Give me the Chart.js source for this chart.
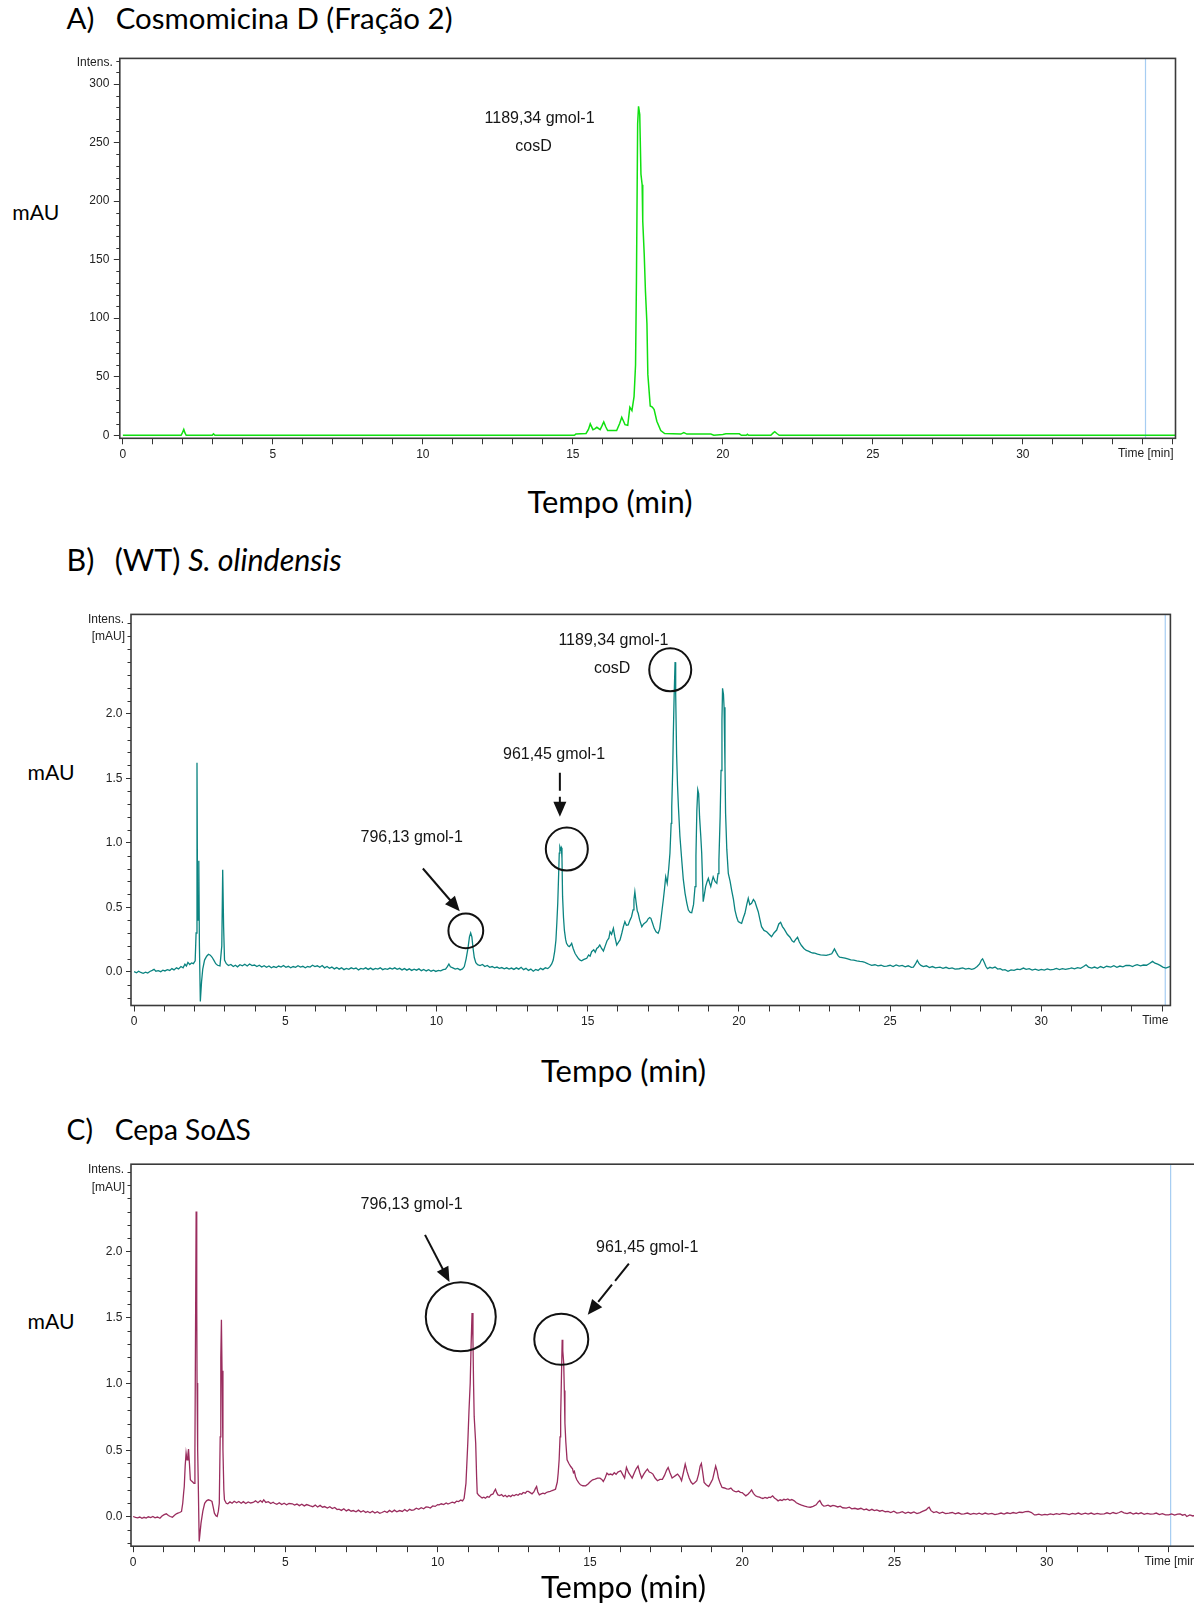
<!DOCTYPE html>
<html><head><meta charset="utf-8">
<script src="https://cdn.jsdelivr.net/npm/chart.js@4.4.1/dist/chart.umd.min.js"></script>
<style>
html,body{margin:0;padding:0;background:#fff;overflow:hidden;}
#page{position:relative;width:1194px;height:1605px;overflow:hidden;background:#fff;}
canvas{position:absolute;}
.t{position:absolute;white-space:nowrap;font-family:Lato,'Open Sans','Noto Sans',sans-serif;color:#000;line-height:1;transform:translateY(-50%);font-size:30px;}
.c{transform:translate(-50%,-50%);}
</style></head><body><div id="page">
<div class="t" id="lA" style="left:66.6px;top:18.4px">A)</div>
<div class="t" id="tA" data-w="337" style="left:115.7px;top:18.4px">Cosmomicina D (Fração 2)</div>
<div class="t" id="mA" data-w="47" style="left:12.3px;top:213px">mAU</div>
<div class="t c" id="xA" data-w="165" style="left:610px;top:500.7px">Tempo (min)</div>
<canvas id="cA" width="1194" height="440" style="left:0;top:40px;width:1194px;height:440px"></canvas>

<div class="t" id="lB" style="left:66.6px;top:559px">B)</div>
<div class="t" id="tB" data-w="227" style="left:114.7px;top:559px">(WT) <i>S. olindensis</i></div>
<div class="t" id="mB" data-w="47" style="left:27.6px;top:773px">mAU</div>
<div class="t c" id="xB" data-w="165" style="left:623.6px;top:1070px">Tempo (min)</div>
<canvas id="cB" width="1194" height="460" style="left:0;top:580px;width:1194px;height:460px"></canvas>

<div class="t" id="lC" style="left:66.6px;top:1129.4px">C)</div>
<div class="t" id="tC" data-w="136" style="left:114.7px;top:1129.4px">Cepa SoΔS</div>
<div class="t" id="mC" data-w="47" style="left:27.6px;top:1322px">mAU</div>
<canvas id="cC" width="1210" height="440" style="left:0;top:1140px;width:1210px;height:440px"></canvas>
<div class="t c" id="xC" data-w="165" style="left:623.6px;top:1586px">Tempo (min)</div>
</div>
<script>
// ---------------- DATA ----------------
const xTickLabels = [0, 5, 10, 15, 20, 25, 30];
const yTickLabelsA = [0, 50, 100, 150, 200, 250, 300];
const yTickLabelsB = [0, 0.5, 1.0, 1.5, 2.0];
const yTickLabelsC = [0, 0.5, 1.0, 1.5, 2.0];

// A) Cosmomicina D (Fração 2) : [time (min), intensity (mAU)]
const traceA = [[0,0],[1.94,0],[1.99,2.5],[2.03,5],[2.07,2],[2.11,0],[2.98,0],[3.02,1.2],[3.07,0],[15.05,0],[15.1,1],[15.44,1.5],[15.52,5],[15.58,9.7],[15.67,4.8],[15.73,5.5],[15.8,6.8],[15.91,4.8],[15.97,8],[16.03,11.4],[16.1,7],[16.16,4],[16.46,4],[16.56,10],[16.63,15.4],[16.69,12],[16.74,9],[16.83,8.5],[16.9,24],[16.97,21],[17.04,33],[17.09,60],[17.12,132],[17.16,266],[17.19,281],[17.23,274],[17.27,223],[17.31,214],[17.33,183],[17.38,154],[17.42,123],[17.47,95],[17.5,52],[17.58,25],[17.65,24],[17.71,22],[17.8,12],[17.93,4],[18.06,1.4],[18.6,1],[18.7,2.2],[18.8,1],[19.6,1],[19.7,0],[20.0,0.6],[20.1,1.2],[20.55,1.2],[20.62,0],[20.78,0],[20.82,0.8],[20.86,0],[21.6,0],[21.68,2],[21.73,3],[21.8,1.5],[21.88,0],[35.1,0]];

// B) (WT) S. olindensis
const traceB = [[0.00,0.000],[0.08,-0.008],[0.15,0.004],[0.22,-0.006],[0.30,-0.012],[0.38,-0.004],[0.45,-0.010],[0.52,0.002],[0.60,0.010],[0.66,0.018],[0.72,0.004],[0.80,0.008],[0.88,0.000],[0.95,0.012],[1.02,0.006],[1.10,0.016],[1.18,0.010],[1.25,0.024],[1.32,0.014],[1.40,0.030],[1.47,0.022],[1.55,0.040],[1.62,0.030],[1.68,0.058],[1.73,0.044],[1.78,0.072],[1.84,0.056],[1.90,0.068],[1.96,0.062],[2.02,0.085],[2.05,0.30],[2.08,1.62],[2.10,0.40],[2.12,0.40],[2.14,0.86],[2.16,0.20],[2.19,-0.23],[2.23,-0.08],[2.27,0.02],[2.33,0.09],[2.40,0.12],[2.46,0.135],[2.52,0.128],[2.58,0.112],[2.64,0.088],[2.70,0.062],[2.76,0.050],[2.84,0.045],[2.90,0.20],[2.93,0.79],[2.96,0.35],[2.99,0.09],[3.05,0.062],[3.12,0.048],[3.20,0.056],[3.28,0.040],[3.35,0.050],[3.42,0.038],[3.50,0.054],[3.58,0.046],[3.66,0.058],[3.74,0.044],[3.82,0.060],[3.90,0.048],[3.98,0.052],[4.06,0.040],[4.14,0.050],[4.22,0.036],[4.30,0.046],[4.38,0.034],[4.46,0.044],[4.54,0.030],[4.62,0.040],[4.70,0.032],[4.78,0.044],[4.86,0.036],[4.94,0.048],[5.02,0.034],[5.10,0.042],[5.18,0.030],[5.26,0.040],[5.34,0.034],[5.42,0.046],[5.50,0.036],[5.58,0.042],[5.66,0.030],[5.74,0.040],[5.82,0.036],[5.90,0.050],[5.98,0.040],[6.06,0.046],[6.14,0.034],[6.22,0.048],[6.30,0.030],[6.38,0.040],[6.46,0.026],[6.54,0.036],[6.62,0.022],[6.70,0.032],[6.78,0.020],[6.86,0.030],[6.94,0.016],[7.02,0.026],[7.10,0.018],[7.18,0.030],[7.26,0.022],[7.34,0.028],[7.42,0.014],[7.50,0.026],[7.58,0.020],[7.66,0.030],[7.74,0.018],[7.82,0.028],[7.90,0.016],[7.98,0.026],[8.06,0.020],[8.14,0.030],[8.22,0.016],[8.30,0.024],[8.38,0.018],[8.46,0.028],[8.54,0.020],[8.62,0.030],[8.70,0.018],[8.78,0.026],[8.86,0.014],[8.94,0.024],[9.02,0.012],[9.10,0.022],[9.18,0.010],[9.26,0.020],[9.34,0.012],[9.42,0.022],[9.50,0.008],[9.58,0.018],[9.66,0.006],[9.74,0.016],[9.82,0.004],[9.90,0.012],[9.98,0.002],[10.06,0.010],[10.14,0.006],[10.22,0.016],[10.30,0.020],[10.36,0.040],[10.41,0.060],[10.46,0.038],[10.54,0.030],[10.62,0.020],[10.70,0.026],[10.78,0.014],[10.86,0.022],[10.92,0.040],[10.98,0.100],[11.04,0.180],[11.09,0.270],[11.13,0.300],[11.17,0.270],[11.21,0.180],[11.25,0.110],[11.30,0.070],[11.36,0.054],[11.44,0.048],[11.52,0.056],[11.60,0.040],[11.68,0.048],[11.76,0.034],[11.84,0.040],[11.92,0.030],[12.00,0.036],[12.08,0.026],[12.16,0.032],[12.24,0.022],[12.32,0.030],[12.40,0.020],[12.48,0.028],[12.56,0.018],[12.64,0.030],[12.72,0.020],[12.80,0.034],[12.88,0.016],[12.96,0.026],[13.04,0.010],[13.12,0.020],[13.20,0.004],[13.28,0.018],[13.36,0.010],[13.44,0.026],[13.52,0.016],[13.60,0.030],[13.68,0.024],[13.75,0.039],[13.81,0.060],[13.86,0.090],[13.91,0.160],[13.95,0.246],[13.98,0.380],[14.01,0.530],[14.04,0.760],[14.06,0.920],[14.08,0.970],[14.11,0.950],[14.13,0.960],[14.15,0.880],[14.17,0.580],[14.20,0.420],[14.23,0.320],[14.27,0.250],[14.30,0.220],[14.35,0.200],[14.39,0.194],[14.43,0.205],[14.47,0.220],[14.52,0.180],[14.58,0.143],[14.64,0.120],[14.70,0.100],[14.75,0.090],[14.80,0.085],[14.86,0.094],[14.92,0.100],[14.97,0.104],[15.03,0.130],[15.08,0.120],[15.13,0.155],[15.20,0.170],[15.25,0.150],[15.30,0.180],[15.35,0.190],[15.40,0.207],[15.46,0.180],[15.52,0.160],[15.58,0.200],[15.64,0.240],[15.70,0.260],[15.74,0.310],[15.79,0.290],[15.85,0.336],[15.90,0.270],[15.96,0.207],[16.02,0.230],[16.07,0.246],[16.13,0.300],[16.18,0.350],[16.23,0.388],[16.28,0.360],[16.34,0.362],[16.40,0.400],[16.45,0.426],[16.50,0.480],[16.53,0.560],[16.56,0.620],[16.60,0.540],[16.64,0.470],[16.67,0.453],[16.72,0.400],[16.79,0.349],[16.85,0.370],[16.90,0.380],[16.95,0.388],[17.00,0.410],[17.05,0.420],[17.09,0.414],[17.14,0.380],[17.20,0.336],[17.26,0.310],[17.33,0.298],[17.38,0.330],[17.43,0.420],[17.47,0.500],[17.50,0.556],[17.54,0.640],[17.58,0.736],[17.63,0.685],[17.68,0.800],[17.72,0.918],[17.76,1.150],[17.78,1.280],[17.81,1.550],[17.83,1.820],[17.86,2.150],[17.89,2.400],[17.91,2.150],[17.94,1.690],[17.97,1.450],[18.00,1.280],[18.05,1.050],[18.11,0.866],[18.16,0.720],[18.22,0.608],[18.28,0.530],[18.33,0.478],[18.39,0.460],[18.44,0.457],[18.50,0.520],[18.55,0.660],[18.58,0.900],[18.61,1.250],[18.64,1.410],[18.67,1.380],[18.70,1.200],[18.74,1.050],[18.77,0.920],[18.80,0.700],[18.82,0.543],[18.86,0.600],[18.90,0.660],[18.95,0.700],[18.99,0.724],[19.03,0.690],[19.07,0.660],[19.11,0.700],[19.15,0.736],[19.21,0.700],[19.27,0.685],[19.31,0.760],[19.34,0.866],[19.38,1.200],[19.41,1.560],[19.44,1.950],[19.46,2.197],[19.49,2.150],[19.51,2.050],[19.54,1.600],[19.56,1.228],[19.60,0.950],[19.65,0.763],[19.71,0.700],[19.76,0.633],[19.82,0.560],[19.87,0.478],[19.93,0.420],[19.98,0.388],[20.04,0.380],[20.09,0.375],[20.15,0.420],[20.20,0.453],[20.26,0.520],[20.31,0.569],[20.36,0.520],[20.42,0.530],[20.48,0.560],[20.53,0.543],[20.59,0.500],[20.64,0.465],[20.70,0.400],[20.75,0.349],[20.83,0.320],[20.92,0.310],[21.00,0.290],[21.08,0.271],[21.16,0.300],[21.25,0.323],[21.32,0.370],[21.38,0.383],[21.44,0.350],[21.50,0.330],[21.60,0.290],[21.69,0.267],[21.76,0.240],[21.82,0.229],[21.88,0.250],[21.94,0.267],[22.00,0.230],[22.07,0.203],[22.15,0.180],[22.23,0.165],[22.30,0.160],[22.38,0.150],[22.45,0.145],[22.51,0.144],[22.60,0.136],[22.70,0.130],[22.80,0.128],[22.89,0.126],[22.98,0.132],[23.07,0.139],[23.12,0.160],[23.16,0.177],[23.22,0.150],[23.28,0.125],[23.33,0.113],[23.42,0.110],[23.51,0.105],[23.60,0.100],[23.70,0.092],[23.80,0.090],[23.90,0.084],[24.00,0.080],[24.08,0.078],[24.14,0.075],[24.22,0.066],[24.30,0.058],[24.39,0.049],[24.50,0.054],[24.60,0.046],[24.70,0.050],[24.80,0.042],[24.89,0.044],[25.00,0.050],[25.10,0.040],[25.20,0.052],[25.30,0.044],[25.40,0.049],[25.50,0.038],[25.60,0.046],[25.70,0.034],[25.77,0.036],[25.84,0.060],[25.90,0.087],[25.96,0.062],[26.02,0.049],[26.10,0.040],[26.20,0.046],[26.30,0.032],[26.40,0.040],[26.50,0.030],[26.65,0.036],[26.75,0.026],[26.85,0.034],[26.95,0.024],[27.05,0.030],[27.15,0.020],[27.28,0.023],[27.40,0.030],[27.50,0.020],[27.60,0.026],[27.70,0.018],[27.78,0.023],[27.88,0.040],[27.96,0.060],[28.02,0.090],[28.06,0.100],[28.12,0.070],[28.17,0.040],[28.22,0.023],[28.30,0.034],[28.38,0.028],[28.47,0.036],[28.56,0.020],[28.64,0.024],[28.72,0.012],[28.80,0.016],[28.90,0.003],[29.00,0.014],[29.10,0.010],[29.20,0.020],[29.30,0.016],[29.41,0.028],[29.50,0.018],[29.60,0.024],[29.70,0.012],[29.80,0.020],[29.91,0.010],[30.00,0.018],[30.10,0.012],[30.20,0.022],[30.30,0.014],[30.41,0.018],[30.50,0.026],[30.60,0.016],[30.70,0.024],[30.80,0.018],[30.92,0.023],[31.00,0.030],[31.10,0.022],[31.20,0.032],[31.30,0.026],[31.40,0.040],[31.48,0.054],[31.56,0.036],[31.67,0.028],[31.76,0.036],[31.86,0.026],[31.96,0.040],[32.06,0.030],[32.16,0.042],[32.30,0.036],[32.40,0.046],[32.50,0.034],[32.60,0.044],[32.70,0.038],[32.80,0.048],[32.92,0.049],[33.02,0.040],[33.10,0.050],[33.17,0.054],[33.28,0.046],[33.38,0.052],[33.48,0.050],[33.58,0.064],[33.68,0.080],[33.76,0.066],[33.85,0.058],[33.93,0.049],[34.02,0.036],[34.12,0.028],[34.20,0.036],[34.27,0.041]];

// C) Cepa SoΔS
const traceC = [[0.00,0.000],[0.08,-0.006],[0.15,-0.010],[0.22,-0.004],[0.29,-0.013],[0.36,-0.006],[0.43,-0.012],[0.50,-0.002],[0.58,-0.008],[0.65,0.000],[0.72,-0.010],[0.80,-0.004],[0.88,-0.013],[0.95,0.004],[1.02,0.014],[1.09,0.020],[1.16,0.008],[1.22,0.000],[1.29,-0.005],[1.36,0.010],[1.42,0.020],[1.47,0.025],[1.53,0.030],[1.59,0.038],[1.63,0.100],[1.66,0.180],[1.68,0.226],[1.71,0.380],[1.74,0.478],[1.77,0.428],[1.80,0.470],[1.82,0.508],[1.85,0.400],[1.88,0.277],[1.91,0.270],[1.94,0.264],[1.98,0.255],[2.00,0.250],[2.03,0.503],[2.05,1.400],[2.07,2.300],[2.09,1.600],[2.10,1.006],[2.12,0.500],[2.14,0.250],[2.17,-0.189],[2.20,-0.120],[2.23,-0.050],[2.29,0.040],[2.35,0.100],[2.41,0.118],[2.47,0.126],[2.53,0.122],[2.59,0.113],[2.63,0.070],[2.67,0.025],[2.72,0.005],[2.76,0.000],[2.80,0.040],[2.83,0.100],[2.86,0.600],[2.88,1.200],[2.90,1.484],[2.92,1.100],[2.95,0.503],[2.98,0.200],[3.00,0.126],[3.06,0.100],[3.11,0.096],[3.18,0.110],[3.25,0.100],[3.32,0.115],[3.40,0.104],[3.47,0.113],[3.55,0.100],[3.62,0.112],[3.70,0.098],[3.78,0.110],[3.86,0.102],[3.94,0.106],[4.02,0.118],[4.10,0.104],[4.18,0.120],[4.24,0.108],[4.29,0.126],[4.36,0.106],[4.44,0.112],[4.52,0.098],[4.60,0.108],[4.64,0.100],[4.72,0.092],[4.80,0.104],[4.88,0.090],[4.96,0.100],[5.04,0.088],[5.12,0.098],[5.23,0.096],[5.30,0.086],[5.38,0.094],[5.46,0.082],[5.54,0.092],[5.62,0.080],[5.70,0.090],[5.82,0.080],[5.90,0.074],[5.98,0.086],[6.06,0.072],[6.14,0.084],[6.22,0.070],[6.29,0.075],[6.38,0.064],[6.46,0.074],[6.54,0.060],[6.62,0.068],[6.70,0.052],[6.76,0.055],[6.84,0.046],[6.92,0.058],[7.00,0.042],[7.08,0.052],[7.16,0.040],[7.23,0.045],[7.32,0.036],[7.40,0.048],[7.48,0.034],[7.56,0.044],[7.64,0.030],[7.70,0.038],[7.78,0.028],[7.86,0.040],[7.94,0.026],[8.02,0.036],[8.10,0.024],[8.17,0.030],[8.26,0.040],[8.34,0.030],[8.42,0.046],[8.50,0.034],[8.58,0.048],[8.66,0.036],[8.75,0.045],[8.84,0.038],[8.92,0.052],[9.00,0.040],[9.08,0.054],[9.15,0.046],[9.22,0.050],[9.30,0.062],[9.38,0.054],[9.46,0.066],[9.54,0.058],[9.62,0.072],[9.69,0.070],[9.76,0.064],[9.84,0.080],[9.92,0.076],[10.00,0.090],[10.05,0.088],[10.12,0.096],[10.20,0.090],[10.28,0.102],[10.34,0.094],[10.40,0.100],[10.48,0.108],[10.56,0.102],[10.62,0.116],[10.69,0.113],[10.76,0.124],[10.82,0.118],[10.87,0.138],[10.93,0.250],[10.99,0.553],[11.03,0.800],[11.07,1.006],[11.10,1.300],[11.13,1.535],[11.16,1.330],[11.18,1.000],[11.20,0.755],[11.25,0.553],[11.28,0.300],[11.30,0.176],[11.35,0.160],[11.40,0.150],[11.46,0.140],[11.52,0.146],[11.57,0.138],[11.63,0.150],[11.69,0.145],[11.75,0.163],[11.82,0.170],[11.86,0.190],[11.90,0.206],[11.94,0.180],[11.98,0.163],[12.04,0.158],[12.10,0.166],[12.16,0.151],[12.22,0.160],[12.28,0.148],[12.34,0.158],[12.40,0.150],[12.46,0.162],[12.51,0.156],[12.58,0.166],[12.64,0.160],[12.70,0.172],[12.76,0.168],[12.81,0.181],[12.88,0.176],[12.93,0.190],[12.98,0.189],[13.04,0.180],[13.10,0.171],[13.16,0.185],[13.21,0.210],[13.25,0.226],[13.29,0.185],[13.34,0.163],[13.40,0.170],[13.46,0.176],[13.52,0.172],[13.57,0.181],[13.63,0.186],[13.70,0.190],[13.76,0.196],[13.82,0.200],[13.87,0.206],[13.93,0.260],[13.96,0.330],[13.99,0.428],[14.02,0.600],[14.04,0.755],[14.07,1.100],[14.09,1.333],[14.11,1.250],[14.14,1.157],[14.16,0.950],[14.18,0.704],[14.21,0.560],[14.25,0.428],[14.31,0.400],[14.37,0.377],[14.43,0.360],[14.46,0.330],[14.49,0.340],[14.53,0.300],[14.57,0.277],[14.63,0.255],[14.69,0.239],[14.77,0.232],[14.86,0.231],[14.94,0.245],[15.01,0.262],[15.09,0.277],[15.17,0.282],[15.25,0.290],[15.33,0.289],[15.39,0.280],[15.44,0.264],[15.50,0.290],[15.56,0.327],[15.62,0.315],[15.68,0.320],[15.74,0.314],[15.80,0.330],[15.86,0.318],[15.92,0.335],[16.01,0.345],[16.07,0.320],[16.14,0.290],[16.20,0.370],[16.27,0.330],[16.33,0.310],[16.39,0.290],[16.46,0.330],[16.52,0.360],[16.58,0.380],[16.64,0.330],[16.70,0.290],[16.77,0.320],[16.83,0.340],[16.89,0.357],[16.95,0.335],[17.01,0.330],[17.07,0.320],[17.14,0.290],[17.22,0.270],[17.30,0.280],[17.38,0.280],[17.45,0.310],[17.52,0.350],[17.57,0.370],[17.63,0.330],[17.70,0.290],[17.76,0.300],[17.82,0.310],[17.88,0.320],[17.95,0.300],[18.01,0.270],[18.07,0.330],[18.13,0.395],[18.19,0.340],[18.26,0.290],[18.32,0.260],[18.38,0.244],[18.44,0.255],[18.51,0.270],[18.57,0.320],[18.62,0.380],[18.66,0.400],[18.70,0.340],[18.75,0.257],[18.82,0.240],[18.90,0.226],[18.96,0.250],[19.03,0.280],[19.08,0.330],[19.13,0.380],[19.18,0.340],[19.22,0.290],[19.28,0.250],[19.34,0.219],[19.42,0.215],[19.49,0.208],[19.56,0.206],[19.63,0.214],[19.70,0.196],[19.76,0.190],[19.81,0.186],[19.88,0.192],[19.94,0.182],[20.00,0.180],[20.06,0.168],[20.12,0.156],[20.20,0.170],[20.26,0.186],[20.31,0.200],[20.37,0.175],[20.44,0.156],[20.50,0.150],[20.57,0.146],[20.62,0.140],[20.68,0.136],[20.75,0.144],[20.82,0.138],[20.88,0.146],[20.93,0.143],[21.00,0.156],[21.06,0.140],[21.12,0.130],[21.18,0.118],[21.25,0.126],[21.31,0.120],[21.37,0.130],[21.43,0.126],[21.50,0.132],[21.56,0.122],[21.63,0.128],[21.71,0.118],[21.78,0.104],[21.87,0.093],[21.95,0.086],[22.05,0.078],[22.14,0.072],[22.24,0.070],[22.33,0.076],[22.43,0.088],[22.50,0.110],[22.55,0.120],[22.62,0.090],[22.68,0.078],[22.74,0.080],[22.82,0.086],[22.90,0.076],[22.98,0.084],[23.05,0.080],[23.14,0.072],[23.22,0.078],[23.30,0.066],[23.42,0.063],[23.52,0.070],[23.60,0.058],[23.70,0.062],[23.80,0.055],[23.90,0.062],[24.00,0.050],[24.08,0.056],[24.17,0.045],[24.26,0.054],[24.34,0.044],[24.42,0.050],[24.52,0.040],[24.60,0.046],[24.70,0.036],[24.79,0.038],[24.88,0.030],[24.98,0.040],[25.08,0.026],[25.17,0.030],[25.26,0.036],[25.36,0.024],[25.45,0.032],[25.54,0.025],[25.64,0.034],[25.74,0.022],[25.84,0.030],[25.92,0.038],[26.04,0.050],[26.10,0.064],[26.14,0.070],[26.20,0.044],[26.29,0.030],[26.38,0.036],[26.48,0.024],[26.58,0.032],[26.68,0.022],[26.79,0.025],[26.90,0.030],[27.00,0.020],[27.10,0.028],[27.20,0.018],[27.29,0.020],[27.40,0.026],[27.50,0.016],[27.60,0.024],[27.70,0.018],[27.78,0.025],[27.88,0.016],[27.98,0.026],[28.08,0.018],[28.20,0.024],[28.30,0.014],[28.41,0.020],[28.50,0.026],[28.60,0.018],[28.70,0.028],[28.80,0.022],[28.90,0.030],[29.00,0.024],[29.10,0.032],[29.20,0.030],[29.30,0.036],[29.40,0.038],[29.50,0.030],[29.60,0.012],[29.65,0.012],[29.74,0.018],[29.84,0.010],[29.94,0.016],[30.02,0.012],[30.12,0.020],[30.22,0.014],[30.32,0.022],[30.42,0.016],[30.52,0.024],[30.65,0.020],[30.74,0.014],[30.84,0.024],[30.94,0.018],[31.04,0.026],[31.14,0.016],[31.27,0.025],[31.36,0.018],[31.46,0.026],[31.56,0.016],[31.66,0.024],[31.76,0.018],[31.89,0.020],[31.98,0.028],[32.08,0.020],[32.18,0.030],[32.28,0.022],[32.38,0.030],[32.45,0.038],[32.54,0.028],[32.64,0.022],[32.74,0.030],[32.84,0.018],[32.94,0.026],[33.01,0.020],[33.10,0.028],[33.20,0.016],[33.30,0.024],[33.40,0.018],[33.51,0.020],[33.60,0.026],[33.70,0.014],[33.80,0.022],[33.90,0.012],[34.01,0.012],[34.10,0.020],[34.20,0.010],[34.30,0.018],[34.38,0.020],[34.46,0.010],[34.54,0.016],[34.60,0.000],[34.70,0.012],[34.80,0.004],[34.90,0.010],[35.00,0.006],[35.10,0.008]];

// ---------------- ANNOTATIONS (data coordinates) ----------------
const notesA = {
  texts:[{s:'1189,34 gmol-1',t:13.89,v:270.3},{s:'cosD',t:13.69,v:246.7}],
  circles:[], arrows:[]
};
const notesB = {
  texts:[{s:'1189,34 gmol-1',t:15.85,v:2.564},{s:'cosD',t:15.81,v:2.35},{s:'961,45 gmol-1',t:13.89,v:1.682},{s:'796,13 gmol-1',t:9.18,v:1.04}],
  circles:[{t:10.97,v:0.317,rx:17.4,ry:17.4},{t:14.31,v:0.951,rx:21,ry:21.5},{t:17.73,v:2.34,rx:21,ry:21.5}],
  arrows:[{t1:14.08,v1:1.543,t2:14.08,v2:1.202,dash:[18,6]},{t1:9.55,v1:0.80,t2:10.77,v2:0.468,dash:null}]
};
const notesC = {
  texts:[{s:'796,13 gmol-1',t:9.146,v:2.355},{s:'961,45 gmol-1',t:16.88,v:2.031}],
  circles:[{t:10.76,v:1.506,rx:35,ry:34.5},{t:14.06,v:1.336,rx:27,ry:25.5}],
  arrows:[{t1:9.586,v1:2.124,t2:10.39,v2:1.768,dash:null},{t1:16.28,v1:1.907,t2:14.93,v2:1.521,dash:[22,5]}]
};

// ---------------- DRAWING ----------------
Chart.defaults.font.family = "'Liberation Sans', Arial, sans-serif";
const DECO = {};
function near(list, v){ return list.some(m => Math.abs(m - v) < 1e-6); }

const decoPlugin = {
  id:'deco',
  beforeDatasetsDraw(chart){
    const d = DECO[chart.canvas.id]; if(!d) return;
    const {ctx, chartArea:a, scales:{x}} = chart;
    const bx = x.getPixelForValue(d.blueT);
    ctx.save(); ctx.strokeStyle='#a6cdf2'; ctx.lineWidth=1.2;
    ctx.beginPath(); ctx.moveTo(bx,a.top); ctx.lineTo(bx,a.bottom); ctx.stroke(); ctx.restore();
  },
  afterDatasetsDraw(chart){
    const d = DECO[chart.canvas.id]; if(!d) return;
    const {ctx, chartArea:a, scales:{x,y}} = chart;
    ctx.save();
    // frame
    ctx.strokeStyle='#3a3a3a'; ctx.lineWidth=1.6;
    ctx.strokeRect(a.left, a.top, a.right-a.left, a.bottom-a.top);
    // minor y ticks
    ctx.strokeStyle='#333'; ctx.lineWidth=1;
    ctx.beginPath();
    const k0 = Math.ceil(y.min/d.minor - 1e-9), k1 = Math.floor(y.max/d.minor + 1e-9);
    for(let k=k0;k<=k1;k++){
      const v = k*d.minor; if(near(d.yLabels, v)) continue;
      const py = Math.round(y.getPixelForValue(v))+0.5;
      ctx.moveTo(a.left-3.5, py); ctx.lineTo(a.left, py);
    }
    ctx.stroke();
    // axis header labels
    ctx.fillStyle='#222'; ctx.font="12px 'Liberation Sans', Arial, sans-serif";
    ctx.textAlign='right'; ctx.textBaseline='middle';
    for(const h of d.heads){ ctx.fillText(h.s, a.left - h.dx, y.getPixelForValue(h.v)); }
    // time label
    ctx.font="12px 'Liberation Sans', Arial, sans-serif";
    ctx.textAlign = 'right'; ctx.textBaseline='middle';
    ctx.fillText(d.timeText, a.right-2, a.bottom + 15.5);
    // annotations
    const n = d.notes;
    ctx.fillStyle='#151515'; ctx.font="16px 'Liberation Sans', Arial, sans-serif";
    ctx.textAlign='center'; ctx.textBaseline='middle';
    for(const t of n.texts){ ctx.fillText(t.s, x.getPixelForValue(t.t), y.getPixelForValue(t.v)); }
    ctx.strokeStyle='#111'; ctx.lineWidth=2;
    for(const c of n.circles){
      ctx.beginPath(); ctx.ellipse(x.getPixelForValue(c.t), y.getPixelForValue(c.v), c.rx, c.ry, 0, 0, Math.PI*2); ctx.stroke();
    }
    for(const ar of n.arrows){
      const x1=x.getPixelForValue(ar.t1), y1=y.getPixelForValue(ar.v1), x2=x.getPixelForValue(ar.t2), y2=y.getPixelForValue(ar.v2);
      const L=Math.hypot(x2-x1,y2-y1), ux=(x2-x1)/L, uy=(y2-y1)/L, hl=15, hw=6.5;
      const bx=x2-ux*hl, by=y2-uy*hl;
      ctx.beginPath(); ctx.setLineDash(ar.dash||[]); ctx.moveTo(x1,y1); ctx.lineTo(bx+ux*2,by+uy*2); ctx.stroke(); ctx.setLineDash([]);
      ctx.beginPath(); ctx.moveTo(x2,y2); ctx.lineTo(bx-uy*hw, by+ux*hw); ctx.lineTo(bx+uy*hw, by-ux*hw); ctx.closePath();
      ctx.fillStyle='#111'; ctx.fill();
    }
    ctx.restore();
  }
};

function makeChart(id, cfg){
  DECO[id] = cfg.deco;
  const yl = cfg.deco.yLabels;
  return new Chart(document.getElementById(id), {
    type:'line',
    data:{datasets:[{data:cfg.data, borderColor:cfg.color, borderWidth:cfg.lw, pointRadius:0, tension:0, fill:false}]},
    options:{
      responsive:false, animation:false, events:[],
      layout:{padding:cfg.pad},
      plugins:{legend:{display:false}, tooltip:{enabled:false}, title:{display:false}},
      scales:{
        x:{type:'linear', min:cfg.xMin, max:cfg.xMax,
           afterFit:s=>{ s.height = 30; },
           border:{display:false},
           grid:{display:true, drawOnChartArea:false, drawTicks:true, tickLength:6, tickColor:'#333', tickWidth:1, color:'rgba(0,0,0,0)'},
           ticks:{stepSize:1, autoSkip:false, maxRotation:0, minRotation:0, includeBounds:false, padding:3, color:'#222', font:{size:12},
                  callback:v => xTickLabels.includes(v) ? String(v) : ''}},
        y:{type:'linear', min:cfg.yMin, max:cfg.yMax,
           afterFit:s=>{ s.width = cfg.yW; },
           border:{display:false},
           grid:{display:true, drawOnChartArea:false, drawTicks:true, tickLength:cfg.tickLen, tickWidth:1,
                 tickColor:c => (c.tick && near(yl, c.tick.value)) ? '#333' : 'rgba(0,0,0,0)', color:'rgba(0,0,0,0)'},
           ticks:{stepSize:cfg.yStep, autoSkip:false, includeBounds:false, padding:cfg.yPad, color:'#222', font:{size:12},
                  callback:v => near(yl, v) ? cfg.fmt(v) : ''}}
      }
    },
    plugins:[decoPlugin]
  });
}

makeChart('cA', {
  data: traceA, color:'#10e010', lw:1.5,
  pad:{top:18.4, left:0, right:18.5, bottom:11.7}, yW:119.8,
  xMin:-0.103, xMax:35.09, yMin:-2.6, yMax:321.9, yStep:50, tickLen:6, yPad:4.5,
  fmt:v => String(Math.round(v)),
  deco:{yLabels:yTickLabelsA, minor:10, blueT:34.09, heads:[{s:'Intens.', v:318.4, dx:7}],
        timeText:'Time [min]', notes:notesA}
});
makeChart('cB', {
  data: traceB, color:'#0b8481', lw:1.3,
  pad:{top:34.4, left:0, right:23.6, bottom:4.5}, yW:131,
  xMin:-0.1025, xMax:34.27, yMin:-0.262, yMax:2.770, yStep:0.5, tickLen:5, yPad:3.6,
  fmt:v => v.toFixed(1),
  deco:{yLabels:yTickLabelsB, minor:0.1, blueT:34.1, heads:[{s:'Intens.', v:2.73, dx:7},{s:'[mAU]', v:2.6, dx:6}],
        timeText:'Time', notes:notesB}
});
makeChart('cC', {
  data: traceC, color:'#9a2d5e', lw:1.3,
  pad:{top:24.2, left:0, right:8, bottom:3.8}, yW:131,
  xMin:-0.069, xMax:35.10, yMin:-0.224, yMax:2.657, yStep:0.5, tickLen:5, yPad:3.6,
  fmt:v => v.toFixed(1),
  deco:{yLabels:yTickLabelsC, minor:0.1, blueT:34.07, heads:[{s:'Intens.', v:2.616, dx:7},{s:'[mAU]', v:2.478, dx:6}],
        timeText:'Time [min]', notes:notesC}
});

// fit the document text to the reference widths
function fitText(){
  document.querySelectorAll('[data-w]').forEach(el=>{
    el.style.fontSize='30px';
    const w = el.getBoundingClientRect().width;
    el.style.fontSize = (30*parseFloat(el.dataset.w)/w).toFixed(2)+'px';
  });
  [['lA','tA'],['lB','tB'],['lC','tC']].forEach(([l,t])=>{
    document.getElementById(l).style.fontSize = document.getElementById(t).style.fontSize;
  });
}
fitText();
</script>
</body></html>
